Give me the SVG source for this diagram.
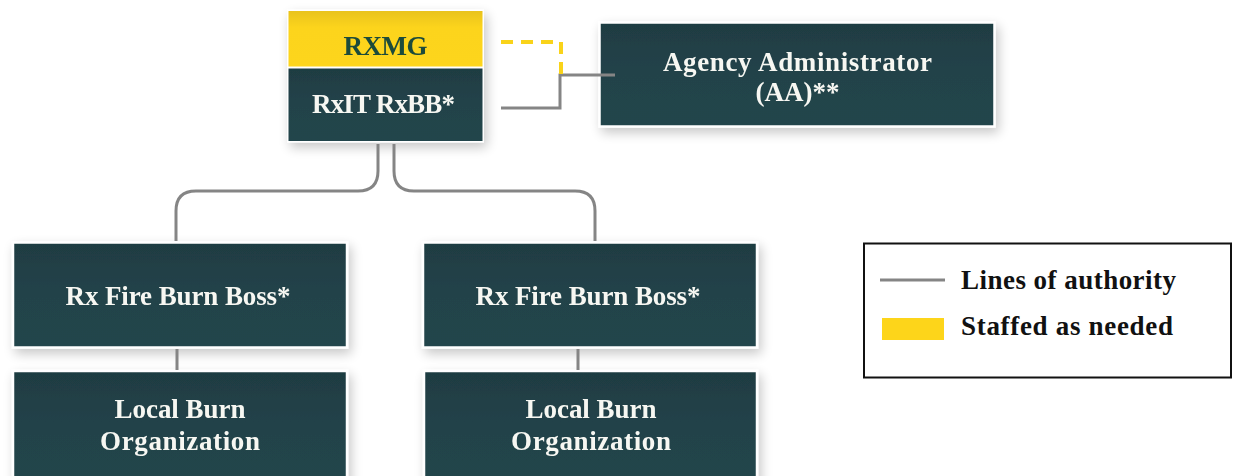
<svg xmlns="http://www.w3.org/2000/svg" width="1237" height="476" viewBox="0 0 1237 476">
<defs>
<filter id="sh" x="-10%" y="-20%" width="125%" height="145%">
<feGaussianBlur in="SourceAlpha" stdDeviation="6"/>
<feOffset dx="3" dy="5" result="b"/>
<feComponentTransfer><feFuncA type="linear" slope="0.22"/></feComponentTransfer>
<feMerge><feMergeNode/><feMergeNode in="SourceGraphic"/></feMerge>
</filter>
<linearGradient id="yg" x1="0" y1="0" x2="0" y2="1">
<stop offset="0" stop-color="#e9c31b"/>
<stop offset="0.3" stop-color="#fcd41a"/>
<stop offset="1" stop-color="#fdd51a"/>
</linearGradient>
<linearGradient id="dg" x1="0" y1="0" x2="0" y2="1">
<stop offset="0" stop-color="#1f3c42"/>
<stop offset="0.5" stop-color="#22434a"/>
<stop offset="1" stop-color="#24454b"/>
</linearGradient>
</defs>
<style>
.box{fill:url(#dg);stroke:#ffffff;stroke-width:2.5}
.t{font-family:"Liberation Serif","Times New Roman",serif;font-weight:bold;font-size:27px;fill:#f7f7f2;text-anchor:middle}
.lg{font-family:"Liberation Serif","Times New Roman",serif;font-weight:bold;font-size:27px;fill:#111111}
.ln{fill:none;stroke:#858585;stroke-width:3}
</style>
<rect width="1237" height="476" fill="#ffffff"/>

<g id="node-rxmg-rxit" filter="url(#sh)">
<rect x="287" y="9.5" width="197" height="133" fill="#ffffff"/>
<rect x="288.5" y="11" width="194" height="55.5" fill="url(#yg)"/>
<rect x="288.5" y="68.5" width="194" height="72.5" fill="url(#dg)"/>
<text x="385.5" y="55" class="t" style="fill:#1f4c3a" textLength="84">RXMG</text>
<text x="383.5" y="113" class="t" textLength="143">RxIT RxBB*</text>
</g>

<g id="node-aa" filter="url(#sh)">
<rect x="599.5" y="22.5" width="395" height="104" class="box"/>
<text x="797.5" y="71" class="t" textLength="269">Agency Administrator</text>
<text x="797.5" y="101" class="t">(AA)**</text>
</g>

<g id="node-burnboss-left" filter="url(#sh)">
<rect x="13" y="242.5" width="334" height="105" class="box"/>
<text x="178" y="305" class="t" textLength="225">Rx Fire Burn Boss*</text>
</g>

<g id="node-burnboss-right" filter="url(#sh)">
<rect x="423" y="242.5" width="334" height="105" class="box"/>
<text x="588" y="305" class="t" textLength="225">Rx Fire Burn Boss*</text>
</g>

<g id="node-local-left" filter="url(#sh)">
<rect x="13" y="371" width="334" height="120" class="box"/>
<text x="180" y="418" class="t" textLength="131">Local Burn</text>
<text x="180" y="450" class="t" textLength="160">Organization</text>
</g>

<g id="node-local-right" filter="url(#sh)">
<rect x="424" y="371" width="333" height="120" class="box"/>
<text x="591" y="418" class="t" textLength="131">Local Burn</text>
<text x="591" y="450" class="t" textLength="160">Organization</text>
</g>

<g id="connectors">
<path class="ln" d="M378,144 V171 Q378,191 358,191 H196 Q176,191 176,211 V241"/>
<path class="ln" d="M394,144 V171 Q394,191 414,191 H575 Q595,191 595,211 V241"/>
<path class="ln" d="M177,349 V370"/>
<path class="ln" d="M578,349 V370"/>
<path class="ln" d="M501,108 H560 V75 H615"/>
<path d="M501,42 H561 V75" fill="none" stroke="#f9d31a" stroke-width="4" stroke-dasharray="12 8"/>
</g>

<g id="legend">
<rect x="864" y="243.5" width="367" height="134" fill="#ffffff" stroke="#111111" stroke-width="2"/>
<line x1="880" y1="280" x2="945" y2="280" stroke="#858585" stroke-width="3"/>
<rect x="882" y="318" width="62" height="22" fill="#fdd51a"/>
<text x="961" y="289" class="lg" textLength="215">Lines of authority</text>
<text x="961" y="335" class="lg" textLength="212">Staffed as needed</text>
</g>
</svg>
